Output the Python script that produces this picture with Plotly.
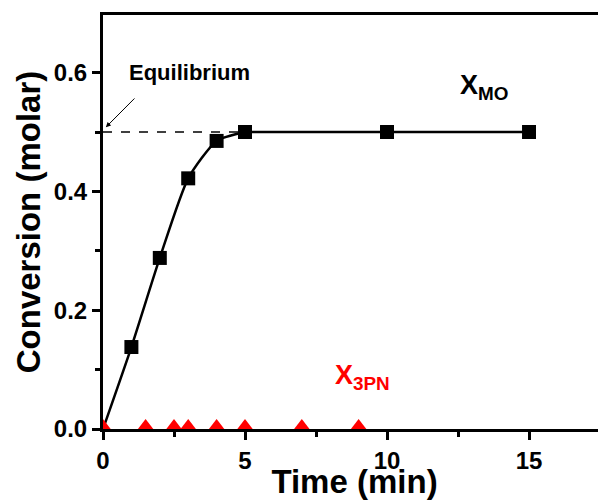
import plotly.graph_objects as go

# Data
time_mo = [0, 1, 2, 3, 4, 5, 10, 15]
conv_mo = [0.0, 0.138, 0.288, 0.422, 0.485, 0.5, 0.5, 0.5]
time_3pn = [0, 1.5, 2.5, 3, 4, 5, 7, 9]
conv_3pn = [0, 0, 0, 0, 0, 0, 0, 0]
eq_x = [0, 5]
eq_value = 0.5
x_ticks = [0, 5, 10, 15]
y_ticks = [0.0, 0.2, 0.4, 0.6]

FONT = "Liberation Sans, Arial, sans-serif"

fig = go.Figure()

fig.add_trace(go.Scatter(
    x=eq_x, y=[eq_value] * len(eq_x), mode="lines",
    line=dict(color="black", width=1.5, dash="dash"), showlegend=False))

# fitted curve: smooth through the rising part, flat plateau afterwards
fig.add_trace(go.Scatter(
    x=time_mo[:6], y=conv_mo[:6], mode="lines",
    line=dict(color="black", width=2.5, shape="spline", smoothing=0.6),
    showlegend=False))
fig.add_trace(go.Scatter(
    x=time_mo[5:], y=conv_mo[5:], mode="lines",
    line=dict(color="black", width=2.5),
    showlegend=False))

fig.add_trace(go.Scatter(
    x=time_mo[1:], y=conv_mo[1:], mode="markers",
    marker=dict(symbol="square", size=14, color="black"),
    showlegend=False))

fig.add_trace(go.Scatter(
    x=time_3pn, y=conv_3pn, mode="markers",
    marker=dict(symbol="triangle-up", size=20, color="red"),
    showlegend=False))

fig.update_layout(
    width=598, height=492,
    margin=dict(l=95, r=0, t=7, b=71),
    plot_bgcolor="white", paper_bgcolor="white",
    font=dict(family=FONT, color="black"),
    xaxis=dict(
        range=[0, 17.71], tickvals=x_ticks, showgrid=False, zeroline=False, automargin=False,
        showline=True, linecolor="black", linewidth=3, mirror=True,
        ticks="outside", ticklen=8, tickwidth=2.5, tickcolor="black",
        minor=dict(dtick=2.5, tick0=0, ticks="outside", ticklen=5, tickwidth=2.5, tickcolor="black"),
        tickfont=dict(size=24, family=FONT, weight="bold"),
        title=dict(text="Time (min)", font=dict(size=33, family=FONT, weight="bold"), standoff=0),
    ),
    yaxis=dict(
        range=[0, 0.697], tickvals=y_ticks, tickformat=".1f", showgrid=False, zeroline=False, automargin=False,
        showline=True, linecolor="black", linewidth=3,
        ticks="outside", ticklen=8, tickwidth=2.5, tickcolor="black",
        minor=dict(dtick=0.1, tick0=0, ticks="outside", ticklen=5, tickwidth=2.5, tickcolor="black"),
        tickfont=dict(size=24, family=FONT, weight="bold"),
        title=dict(text="Conversion (molar)", font=dict(size=33, family=FONT, weight="bold"), standoff=4),
    ),
    annotations=[
        dict(x=3.06, y=0.601, xref="x", yref="y", text="Equilibrium", showarrow=False,
             font=dict(size=22, family=FONT, weight="bold", color="black")),
        dict(x=0.1, y=0.508, ax=1.16, ay=0.559, xref="x", yref="y", axref="x", ayref="y",
             text="", showarrow=True, arrowhead=2, arrowsize=1, arrowwidth=1, arrowcolor="black"),
        dict(x=12.5, y=0.575, xref="x", yref="y", xanchor="left", yanchor="middle",
             text="X<sub>MO</sub>", showarrow=False,
             font=dict(size=27, family=FONT, weight="bold", color="black")),
        dict(x=8.1, y=0.087, xref="x", yref="y", xanchor="left", yanchor="middle",
             text="X<sub>3PN</sub>", showarrow=False,
             font=dict(size=27, family=FONT, weight="bold", color="red")),
    ],
)

fig.write_html("out.html")
